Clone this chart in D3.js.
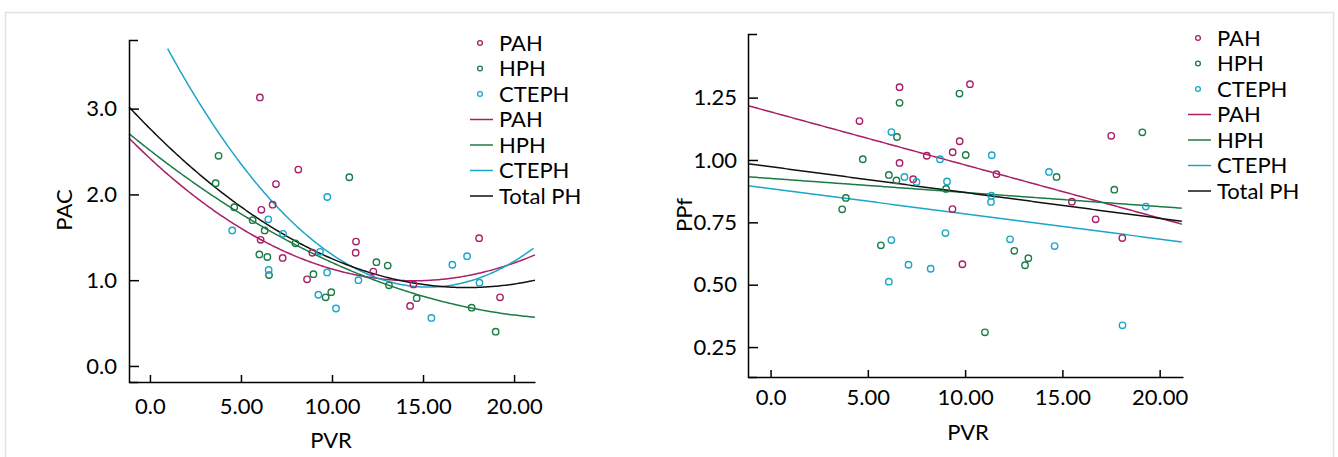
<!DOCTYPE html>
<html>
<head>
<meta charset="utf-8">
<script src="https://cdn.jsdelivr.net/npm/d3@7"></script>
<style>
  body { margin: 0; background: #fff; }
  svg { display: block; font-family: Lato, "Open Sans", sans-serif; }
</style>
</head>
<body>
<script>
// PAC vs PVR (left panel) - [PVR, PAC]
var pacPAH = [[6.04,3.13],[8.15,2.29],[6.92,2.12],[6.74,1.88],[6.12,1.82],[6.08,1.47],[8.92,1.32],[7.29,1.26],
  [11.32,1.45],[11.30,1.32],[8.63,1.01],[12.27,1.10],[14.47,0.95],[14.29,0.70],[18.08,1.49],[19.23,0.80]];
var pacHPH = [[3.77,2.45],[10.95,2.20],[3.61,2.13],[4.63,1.85],[5.64,1.70],[6.30,1.58],[6.01,1.30],[6.45,1.27],
  [6.54,1.06],[7.99,1.43],[8.98,1.07],[9.65,0.80],[9.96,0.86],[12.44,1.21],[13.06,1.17],[13.13,0.94],[14.65,0.79],
  [17.67,0.68],[18.99,0.40]];
var pacCTEPH = [[9.74,1.97],[6.50,1.71],[4.52,1.58],[7.31,1.54],[9.34,1.33],[6.52,1.12],[9.73,1.09],[11.45,1.00],
  [9.25,0.83],[10.22,0.67],[15.46,0.56],[16.61,1.18],[17.42,1.28],[18.10,0.97]];

// quadratic fit lines, [c0, c1, c2, xStart]
var pacFitPAH = [2.42, -0.197, 0.0068, -1.15];
var pacFitHPH = [2.514, -0.1656, 0.00348, -1.15];
var pacFitCTEPH = [4.09, -0.4147, 0.01356, 0.97];
var pacFitTotal = [2.767, -0.2128, 0.00611, -1.15];

// PPf vs PVR (right panel) - [PVR, PPf]
var ppfPAH = [[6.63,1.292],[10.25,1.304],[4.57,1.156],[9.72,1.075],[9.36,1.031],[8.03,1.017],[6.63,0.988],[7.33,0.923],
  [9.35,0.803],[9.86,0.582],[17.51,1.097],[11.61,0.943],[15.49,0.833],[16.71,0.762],[18.08,0.687]];
var ppfHPH = [[9.71,1.266],[6.63,1.229],[6.50,1.092],[10.03,1.020],[4.74,1.003],[6.08,0.94],[6.47,0.918],[9.02,0.884],
  [3.87,0.848],[3.68,0.802],[5.67,0.658],[11.02,0.309],[19.11,1.111],[14.70,0.932],[17.67,0.881],[12.53,0.636],
  [13.25,0.606],[13.08,0.578]];
var ppfCTEPH = [[6.21,1.112],[8.71,1.003],[6.88,0.932],[7.50,0.912],[9.07,0.914],[8.99,0.707],[6.21,0.679],[7.09,0.58],
  [8.23,0.564],[6.08,0.512],[11.37,1.019],[14.31,0.952],[11.35,0.857],[11.33,0.832],[19.29,0.813],[12.31,0.682],
  [14.60,0.655],[18.09,0.337]];

// linear fit lines, [intercept, slope]
var ppfFitPAH = [1.193, -0.0213];
var ppfFitHPH = [0.926, -0.00564];
var ppfFitCTEPH = [0.885, -0.0101];
var ppfFitTotal = [0.973, -0.01034];

var xTicks = [0, 5, 10, 15, 20];
var xTickLabels = ["0.0", "5.00", "10.00", "15.00", "20.00"];
var pacTicks = [0, 1, 2, 3];
var ppfTicks = [0.25, 0.5, 0.75, 1.0, 1.25];
var legendLabels = ["PAH", "HPH", "CTEPH", "PAH", "HPH", "CTEPH", "Total PH"];

var colors = { PAH: "#a91f67", HPH: "#1b7b45", CTEPH: "#19a6c8", Total: "#111111" };

(function(){
  var w = 1338, h = 457, fs = "22px", svg;

  function draw_panel(opt){
    var x = d3.scaleLinear().domain(opt.xDomain).range(opt.xRange),
        y = d3.scaleLinear().domain(opt.yDomain).range(opt.yRange),
        g = svg.append("g");

    // fit lines
    var line = d3.line()
        .x(function(d){ return x(d[0]); })
        .y(function(d){ return y(d[1]); });

    opt.fits.forEach(function(f){
      var xs = d3.range(f.x0, opt.xDomain[1] + 0.001, 0.1);
      var pts = xs.map(function(v){ return [v, f.fn(v)]; })
        .filter(function(p){ return p[1] <= opt.yDomain[1]; });
      g.append("path")
        .attr("d", line(pts))
        .attr("fill", "none")
        .attr("stroke", f.color)
        .attr("stroke-width", 1.5);
    });

    // points
    opt.series.forEach(function(s){
      g.append("g").selectAll("circle")
        .data(s.data)
        .enter()
        .append("circle")
        .attr("cx", function(d){ return x(d[0]); })
        .attr("cy", function(d){ return y(d[1]); })
        .attr("r", 3.2)
        .attr("fill", "none")
        .attr("stroke", s.color)
        .attr("stroke-width", 1.4);
    });

    // axes
    var ya = g.append("g")
        .attr("transform", "translate(" + opt.xRange[0] + ",0)")
        .call(d3.axisLeft(y).tickValues(opt.yTicks).tickFormat(d3.format(opt.yFmt))
          .tickSizeInner(-10).tickSizeOuter(-9).tickPadding(opt.yPad));
    var xa = g.append("g")
        .attr("transform", "translate(0," + opt.yRange[0] + ")")
        .call(d3.axisBottom(x).tickValues(xTicks)
          .tickFormat(function(d, i){ return xTickLabels[i]; })
          .tickSizeInner(-7).tickSizeOuter(0).tickPadding(opt.xPad));

    [ya, xa].forEach(function(a){
      a.selectAll("path, line").attr("stroke", "#000").attr("stroke-width", 1.5);
      a.selectAll("text")
        .attr("fill", "#000")
        .style("font-size", fs)
        .style("font-family", "Lato, 'Open Sans', sans-serif");
    });

    g.append("text")
      .text("PVR")
      .attr("x", opt.xTitle[0])
      .attr("y", opt.xTitle[1])
      .attr("dy", "0.35em")
      .attr("text-anchor", "middle")
      .style("font-size", fs);

    g.append("text")
      .text(opt.yTitleText)
      .attr("transform", "translate(" + opt.yTitle[0] + "," + opt.yTitle[1] + ") rotate(-90)")
      .attr("dy", "0.35em")
      .attr("text-anchor", "middle")
      .style("font-size", fs);

    // legend
    var lg = g.append("g");
    legendLabels.forEach(function(lbl, i){
      var ly = opt.legend[1] + i * 25.5,
          key = lbl === "Total PH" ? "Total" : lbl;
      if (i < 3) {
        lg.append("circle")
          .attr("cx", opt.legend[0] + 10)
          .attr("cy", ly)
          .attr("r", 2.4)
          .attr("fill", "none")
          .attr("stroke", colors[key])
          .attr("stroke-width", 1.3);
      } else {
        lg.append("line")
          .attr("x1", opt.legend[0])
          .attr("x2", opt.legend[0] + 23)
          .attr("y1", ly)
          .attr("y2", ly)
          .attr("stroke", colors[key])
          .attr("stroke-width", 1.5);
      }
      lg.append("text")
        .text(lbl)
        .attr("x", opt.legend[0] + 29)
        .attr("y", ly)
        .attr("dy", "0.35em")
        .style("font-size", fs);
    });
  }

  function quad(c){ return function(v){ return c[0] + c[1] * v + c[2] * v * v; }; }
  function lin(c){ return function(v){ return c[0] + c[1] * v; }; }

  function init(){
    svg = d3.select("body").append("svg")
      .attr("width", w)
      .attr("height", h);

    svg.append("rect")
      .attr("x", 5.5).attr("y", 12.5)
      .attr("width", 1328).attr("height", 460)
      .attr("fill", "none")
      .attr("stroke", "#e2e2e2")
      .attr("stroke-width", 1.5);

    draw_panel({
      xDomain: [-1.15, 21.15], xRange: [129, 535],
      yDomain: [-0.187, 3.80], yRange: [382, 40],
      yTicks: pacTicks, yFmt: ".1f", yPad: 12, xPad: 16,
      xTitle: [331, 440], yTitle: [64, 210], yTitleText: "PAC",
      legend: [470, 43],
      series: [
        { data: pacPAH, color: colors.PAH },
        { data: pacHPH, color: colors.HPH },
        { data: pacCTEPH, color: colors.CTEPH }
      ],
      fits: [
        { fn: quad(pacFitPAH), x0: pacFitPAH[3], color: colors.PAH },
        { fn: quad(pacFitHPH), x0: pacFitHPH[3], color: colors.HPH },
        { fn: quad(pacFitCTEPH), x0: pacFitCTEPH[3], color: colors.CTEPH },
        { fn: quad(pacFitTotal), x0: pacFitTotal[3], color: colors.Total }
      ]
    });

    draw_panel({
      xDomain: [-1.16, 21.2], xRange: [748, 1183],
      yDomain: [0.130, 1.505], yRange: [377, 34],
      yTicks: ppfTicks, yFmt: ".2f", yPad: 11, xPad: 12,
      xTitle: [968, 432], yTitle: [684, 215], yTitleText: "PPf",
      legend: [1188, 38],
      series: [
        { data: ppfPAH, color: colors.PAH },
        { data: ppfHPH, color: colors.HPH },
        { data: ppfCTEPH, color: colors.CTEPH }
      ],
      fits: [
        { fn: lin(ppfFitPAH), x0: -1.16, color: colors.PAH },
        { fn: lin(ppfFitHPH), x0: -1.16, color: colors.HPH },
        { fn: lin(ppfFitCTEPH), x0: -1.16, color: colors.CTEPH },
        { fn: lin(ppfFitTotal), x0: -1.16, color: colors.Total }
      ]
    });
  }

  init();
})();
</script>
</body>
</html>
